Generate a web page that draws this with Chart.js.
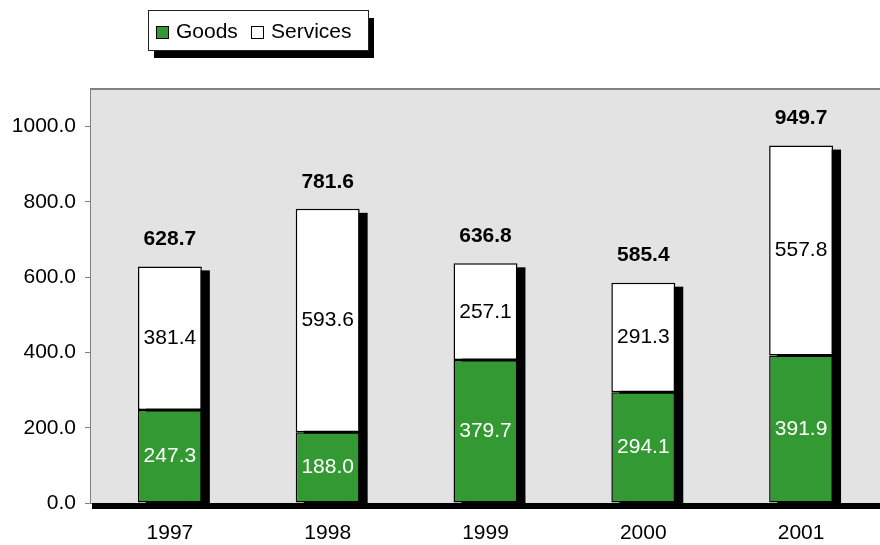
<!DOCTYPE html>
<html>
<head>
<meta charset="utf-8">
<script src="https://cdn.jsdelivr.net/npm/chart.js@4.4.1/dist/chart.umd.min.js"></script>
<style>
  html, body { margin: 0; padding: 0; background: #fff; }
  #wrap { width: 880px; height: 545px; }
</style>
</head>
<body>
<div id="wrap"><canvas id="chart" width="880" height="545"></canvas></div>
<script>
// Data
const years = ['1997', '1998', '1999', '2000', '2001'];
const goods = [247.3, 188.0, 379.7, 294.1, 391.9];
const services = [381.4, 593.6, 257.1, 291.3, 557.8];
const totals = [628.7, 781.6, 636.8, 585.4, 949.7];
const yTicks = [0, 200, 400, 600, 800, 1000];

const FONT = '"Liberation Sans", Arial, sans-serif';
const GREEN = '#339933';

// Grey plot area, floor shadow and bar shadows
const backdrop = {
    id: 'backdrop',
    beforeDatasetsDraw(chart) {
        const { ctx, chartArea: a } = chart;
        ctx.save();
        ctx.fillStyle = '#e3e3e3';
        ctx.fillRect(a.left, a.top, a.right - a.left, a.bottom - a.top);
        ctx.strokeStyle = '#808080';
        ctx.lineWidth = 2;
        ctx.beginPath();
        ctx.moveTo(a.left, a.top);
        ctx.lineTo(a.right, a.top);
        ctx.stroke();

        // black floor band under the axis
        ctx.fillStyle = '#000';
        ctx.fillRect(a.left + 1, a.bottom, a.right - a.left, 6);

        // stack shadows
        const top = chart.getDatasetMeta(1).data;
        top.forEach((bar) => {
            const w = bar.width;
            ctx.fillRect(bar.x - w / 2 + 8, bar.y + 4, w, a.bottom - bar.y - 4);
        });
        ctx.restore();
    },
    afterDatasetsDraw(chart) {
        const { ctx } = chart;
        ctx.save();
        ctx.textAlign = 'center';
        ctx.textBaseline = 'middle';
        ctx.font = '21px ' + FONT;
        chart.data.datasets.forEach((ds, i) => {
            chart.getDatasetMeta(i).data.forEach((bar, j) => {
                const mid = (bar.y + bar.base) / 2;
                ctx.fillStyle = i === 0 ? '#fff' : '#000';
                ctx.fillText(ds.data[j].toFixed(1), bar.x, mid);
            });
        });
        ctx.font = 'bold 21px ' + FONT;
        ctx.fillStyle = '#000';
        chart.getDatasetMeta(1).data.forEach((bar, j) => {
            ctx.fillText(totals[j].toFixed(1), bar.x, bar.y - 27);
        });
        ctx.restore();
    },
    afterDraw(chart) {
        // boxed legend with shadow
        const { ctx } = chart;
        ctx.save();
        ctx.fillStyle = '#000';
        ctx.fillRect(154, 18, 220, 40);
        ctx.fillStyle = '#fff';
        ctx.fillRect(148, 10, 220, 40);
        ctx.strokeStyle = '#222';
        ctx.lineWidth = 1;
        ctx.strokeRect(148.5, 10.5, 220, 40);

        ctx.font = '21px ' + FONT;
        ctx.textBaseline = 'middle';
        ctx.textAlign = 'left';
        const items = [
            { x: 156, fill: GREEN, label: chart.data.datasets[0].label },
            { x: 251, fill: '#fff', label: chart.data.datasets[1].label }
        ];
        items.forEach((it) => {
            ctx.fillStyle = it.fill;
            ctx.fillRect(it.x, 26, 13, 13);
            ctx.strokeStyle = '#000';
            ctx.strokeRect(it.x + 0.5, 26.5, 12, 12);
            ctx.fillStyle = '#000';
            ctx.fillText(it.label, it.x + 20, 32);
        });
        ctx.restore();
    }
};

const ctx = document.getElementById('chart').getContext('2d');
const chart = new Chart(ctx, {
    type: 'bar',
    data: {
        labels: years,
        datasets: [{
            label: 'Goods',
            data: goods,
            backgroundColor: GREEN,
            borderColor: '#000',
            borderWidth: 1.5,
            borderSkipped: false,
            barPercentage: 0.405,
            categoryPercentage: 1
        }, {
            label: 'Services',
            data: services,
            backgroundColor: '#fff',
            borderColor: '#000',
            borderWidth: 1.5,
            borderSkipped: false,
            barPercentage: 0.405,
            categoryPercentage: 1
        }]
    },
    options: {
        responsive: false,
        animation: false,
        layout: { padding: { top: 89, right: 0, left: 0, bottom: 0 } },
        plugins: {
            legend: { display: false },
            tooltip: { enabled: false }
        },
        scales: {
            x: {
                stacked: true,
                grid: { display: false },
                border: { color: '#808080', width: 1 },
                ticks: { color: '#000', font: { family: FONT, size: 21 }, padding: 10 },
                afterFit(scale) { scale.height = 42; }
            },
            y: {
                stacked: true,
                min: 0,
                max: 1100,
                afterBuildTicks(scale) {
                    scale.ticks = yTicks.map((v) => ({ value: v }));
                },
                grid: { drawOnChartArea: false, drawTicks: true, tickLength: 6, color: '#808080' },
                border: { color: '#808080', width: 2 },
                ticks: {
                    color: '#000',
                    font: { family: FONT, size: 21 },
                    padding: 9,
                    callback: (v) => Number(v).toFixed(1)
                },
                afterFit(scale) { scale.width = 91; }
            }
        }
    },
    plugins: [backdrop]
});
</script>
</body>
</html>
